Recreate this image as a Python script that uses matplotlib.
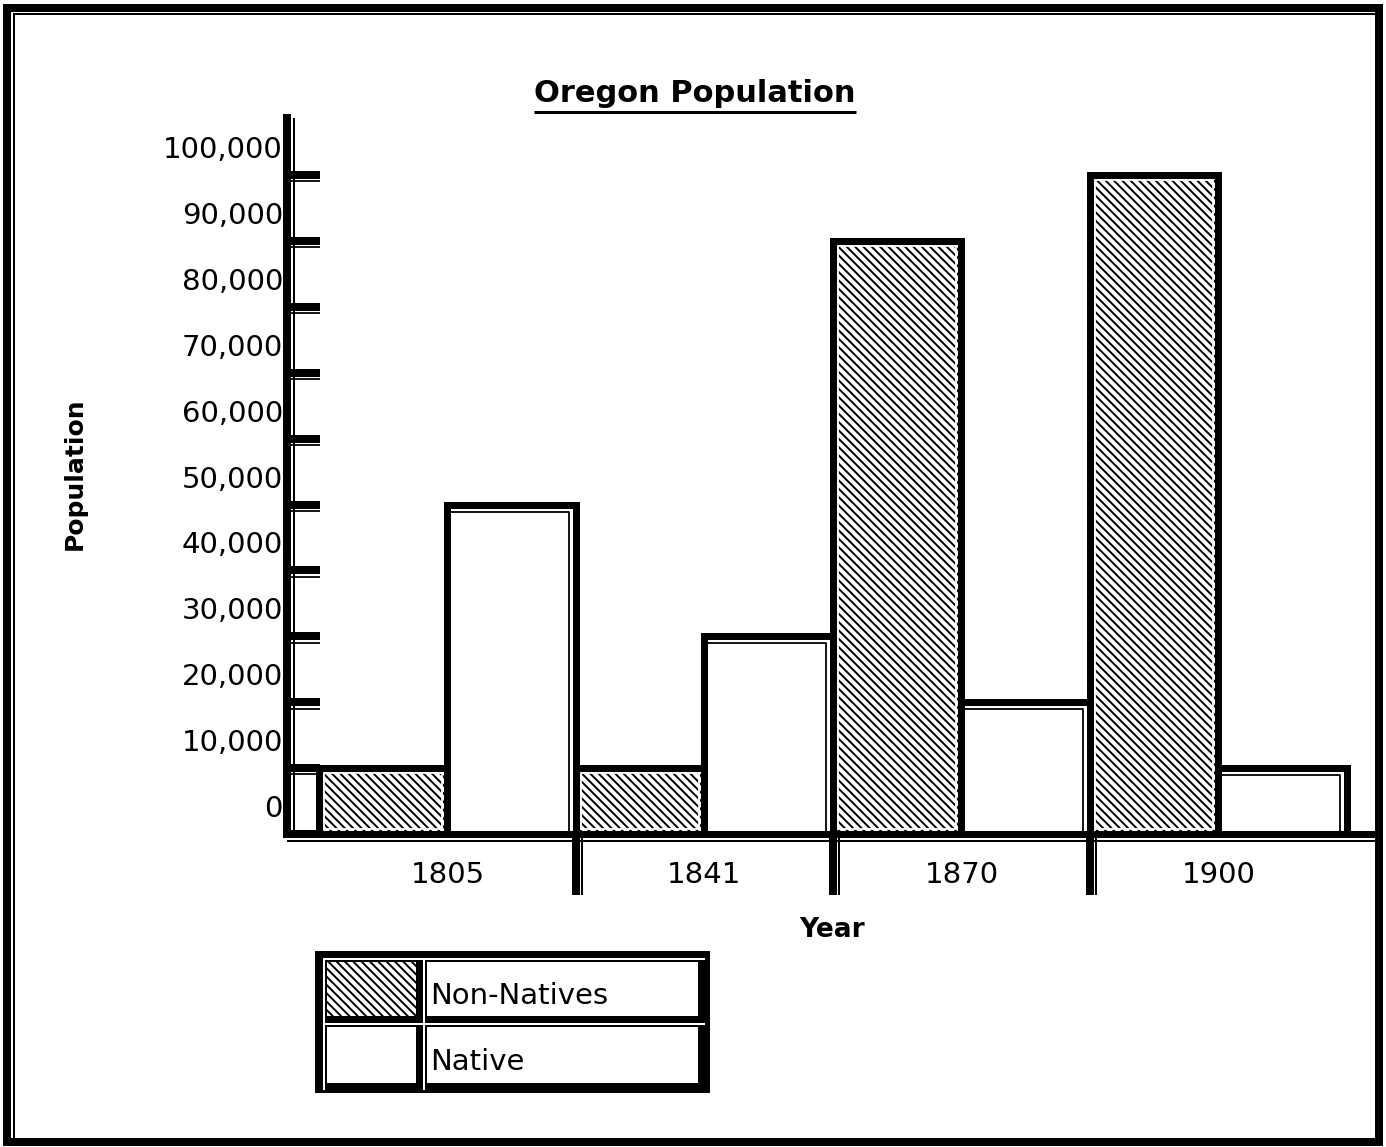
import numpy as np
import matplotlib
matplotlib.use("Agg")
import matplotlib.pyplot as plt
from matplotlib.patches import Rectangle
from matplotlib.transforms import ScaledTranslation

# data
years = ["1805", "1841", "1870", "1900"]
non_natives = [10000, 10000, 90000, 100000]
natives = [50000, 30000, 20000, 10000]
yticks = list(range(0, 100001, 10000))
ytick_labels = [f"{v:,}" for v in yticks]

W, H = 1386, 1147
DPI = 100
PX = 72 / DPI  # points per pixel
HATCH = "\\" * 4

plt.rcParams["font.family"] = "DejaVu Sans"
plt.rcParams["hatch.linewidth"] = 1.4
plt.rcParams["hatch.color"] = "black"

fig = plt.figure(figsize=(W / DPI, H / DPI), dpi=DPI)

# decoration layer, pixel coordinates (frame, legend, extra rules)
deco = fig.add_axes([0, 0, 1, 1], zorder=0)
deco.set_xlim(0, W)
deco.set_ylim(H, 0)
deco.axis("off")

deco.add_patch(Rectangle((7, 7.5), W - 14.5, H - 13, fill=False, ec="black", lw=8 * PX))
deco.add_patch(Rectangle((14, 14), 1376 - 14, 1139.5 - 14, fill=False, ec="black", lw=2 * PX))

# main axes
x0_px, x1_px, top_px, bot_px = 287, 1376, 118, 834
ax = fig.add_axes([x0_px / W, 1 - bot_px / H, (x1_px - x0_px) / W, (bot_px - top_px) / H], zorder=1)
ax.patch.set_visible(False)
xlim = (-0.6245, 3.613)
ylim = (0, 108650)
sx = (x1_px - x0_px) / (xlim[1] - xlim[0])
sy = (bot_px - top_px) / (ylim[1] - ylim[0])

x = np.arange(len(years))
ax.bar(x - 0.25, non_natives, 0.5, color="white", hatch=HATCH, edgecolor="black",
       lw=7 * PX, zorder=2)
for xi, h in zip(x, non_natives):
    d = 5
    ax.add_patch(Rectangle((xi - 0.5 + d / sx, d / sy), 0.5 - 2 * d / sx, h - 2 * d / sy,
                           fill=False, ec="white", lw=1.8 * PX, zorder=2.1))

ax.bar(x + 0.25, natives, 0.5, color="white", edgecolor="black", lw=7 * PX, zorder=2.2)
for xi, h in zip(x, natives):
    l, r = xi + 3.5 / sx, xi + 0.5 - 7 / sx
    t = h - 7 / sy
    ax.plot([l, r, r], [t, t, 0], color="black", lw=1.8 * PX, zorder=2.3,
            solid_capstyle="butt")

for s in ["top", "right"]:
    ax.spines[s].set_visible(False)
ax.spines["left"].set_linewidth(8 * PX)
ax.spines["bottom"].set_linewidth(7 * PX)

ax.set_yticks(yticks)
ax.set_yticks([v - 6.3 / sy for v in yticks[1:]], minor=True)
ax.tick_params(axis="y", which="major", direction="in", length=33 * PX, width=8 * PX,
               labelleft=False)
ax.tick_params(axis="y", which="minor", direction="in", length=33 * PX, width=1.8 * PX,
               labelleft=False)
ax.set_xticks([])

lab_tr = ax.get_yaxis_transform() + ScaledTranslation(-4 / DPI, 25 / DPI, fig.dpi_scale_trans)
for v, lab in zip(yticks, ytick_labels):
    ax.text(0, v, lab, transform=lab_tr, ha="right", va="center", fontsize=21)

xl_tr = ax.get_xaxis_transform() + ScaledTranslation(0, -41 / DPI, fig.dpi_scale_trans)
for xi, yr in zip(x, years):
    ax.text(xi, 0, yr, transform=xl_tr, ha="center", va="center", fontsize=21)

# category separators below the axis
sep_len = (895 - bot_px) / (bot_px - top_px)
for b in x[:-1] + 0.5:
    ax.plot([b, b], [0, -sep_len], transform=ax.get_xaxis_transform(), color="black",
            lw=8 * PX, clip_on=False, solid_capstyle="butt")
    ax.plot([b, b], [0, -sep_len],
            transform=ax.get_xaxis_transform() + ScaledTranslation(6 / DPI, 0, fig.dpi_scale_trans),
            color="black", lw=2 * PX, clip_on=False, solid_capstyle="butt")

ax.set_xlim(*xlim)
ax.set_ylim(*ylim)

# thin companion rules of the axes
deco.plot([294, 294], [top_px, bot_px], color="black", lw=2 * PX, solid_capstyle="butt")
deco.plot([x0_px, x1_px], [841, 841], color="black", lw=2 * PX, solid_capstyle="butt")

# titles
title = fig.text(695 / W, 1 - 93 / H, "Oregon Population", ha="center", va="center",
                 fontsize=22, fontweight="bold")
fig.text(75 / W, 1 - 474 / H, "Population", rotation=90, ha="center", va="center",
         fontsize=18, fontweight="bold")
fig.text(832 / W, 1 - 930 / H, "Year", ha="center", va="center",
         fontsize=19, fontweight="bold")

# legend
deco.add_patch(Rectangle((315, 951), 395, 142, fc="black", ec="none"))


def cell(x0, y0, x1, y1, hatch=None):
    deco.add_patch(Rectangle((x0, y0), x1 - x0, y1 - y0, fc="white", ec="none"))
    deco.add_patch(Rectangle((x0 + 2, y0 + 2), x1 - x0 - 2, y1 - y0 - 2, fc="black", ec="none"))
    deco.add_patch(Rectangle((x0 + 4, y0 + 4), x1 - x0 - 11, y1 - y0 - 11, fc="white",
                             ec="black", lw=0, hatch=hatch))


cell(323, 958, 423, 1023, HATCH)
cell(423, 958, 705, 1023)
cell(323, 1023, 423, 1090)
cell(423, 1023, 705, 1090)
deco.text(430, 996, "Non-Natives", va="center", ha="left", fontsize=21)
deco.text(430, 1062, "Native", va="center", ha="left", fontsize=21)

# underline the title
fig.canvas.draw()
bb = title.get_window_extent()
deco.plot([bb.x0, bb.x1], [111.5, 111.5], color="black", lw=3 * PX, solid_capstyle="butt")

fig.savefig("out.png", dpi=DPI)
